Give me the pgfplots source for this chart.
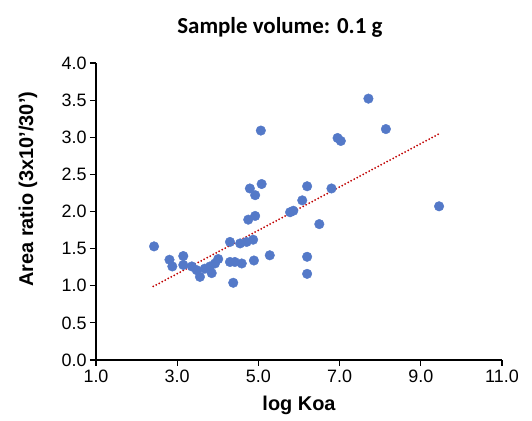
\documentclass[border=0pt]{standalone}
\usepackage{pgfplots}
\pgfplotsset{compat=1.18}
\usepackage{pgfplotstable}
\usepackage{fontspec}
\setmainfont{Liberation Sans}
\newfontfamily\titlefont{Carlito}
\definecolor{dotblue}{HTML}{5479C8}
\definecolor{trendred}{HTML}{C00000}

% log Koa vs area ratio
\pgfplotstableread{
x y
2.43 1.53
2.81 1.35
2.88 1.26
3.15 1.40
3.15 1.28
3.36 1.26
3.48 1.21
3.56 1.12
3.68 1.23
3.81 1.26
3.85 1.17
3.93 1.30
4.01 1.36
4.30 1.59
4.30 1.32
4.42 1.32
4.59 1.30
4.38 1.04
4.55 1.57
4.71 1.59
4.87 1.62
4.89 1.34
4.75 1.89
4.92 1.94
4.79 2.31
4.92 2.22
5.08 2.37
5.06 3.09
5.28 1.41
5.78 1.99
5.86 2.01
6.08 2.15
6.20 2.34
6.20 1.39
6.20 1.16
6.50 1.83
6.80 2.31
6.95 2.99
7.03 2.95
7.71 3.52
8.14 3.11
9.45 2.07
}\koadata

\begin{document}
\begin{tikzpicture}
\begin{axis}[
  name=ax,
  scale only axis, width=406bp, height=297bp,
  xmin=1, xmax=11, ymin=0, ymax=4,
  xtick={1,3,5,7,9,11},
  ytick={0,0.5,1,1.5,2,2.5,3,3.5,4},
  axis x line*=bottom, axis y line*=left,
  axis line style={line width=1.4bp, black},
  tick align=outside, major tick length=6bp,
  tick style={line width=1.2bp, black},
  ticklabel style={font=\fontsize{18}{20}\selectfont},
  /pgf/number format/.cd, fixed, fixed zerofill, precision=1, assume math mode=true,
  /pgfplots/.cd,
  xlabel={log Koa},
  ylabel={Area ratio (3x10’/30’)},
  every axis x label/.style={at={(rel axis cs:0.5,0)}, anchor=center, yshift=-45bp,
    font=\bfseries\fontsize{20}{22}\selectfont},
  every axis y label/.style={at={(rel axis cs:0,0.575)}, anchor=center, rotate=90, yshift=68bp,
    font=\bfseries\fontsize{20}{22}\selectfont},
  clip=false,
]
\addplot[only marks, mark=*, mark size=4.8bp, mark options={draw=dotblue, fill=dotblue, line width=0.4bp}] table {\koadata};
\addplot[trendred, line width=2bp, line cap=round, dash pattern=on 0bp off 3.4bp] coordinates {(2.41,0.99) (9.43,3.04)};
\node[font=\titlefont\bfseries\fontsize{23}{25}\selectfont] at (rel axis cs:0.453,1) [yshift=36bp] {Sample volume: 0.1 g};
\end{axis}
\path ([shift={(-96bp,-61bp)}]ax.south west) rectangle ([shift={(30bp,63bp)}]ax.north east);
\end{tikzpicture}
\end{document}
